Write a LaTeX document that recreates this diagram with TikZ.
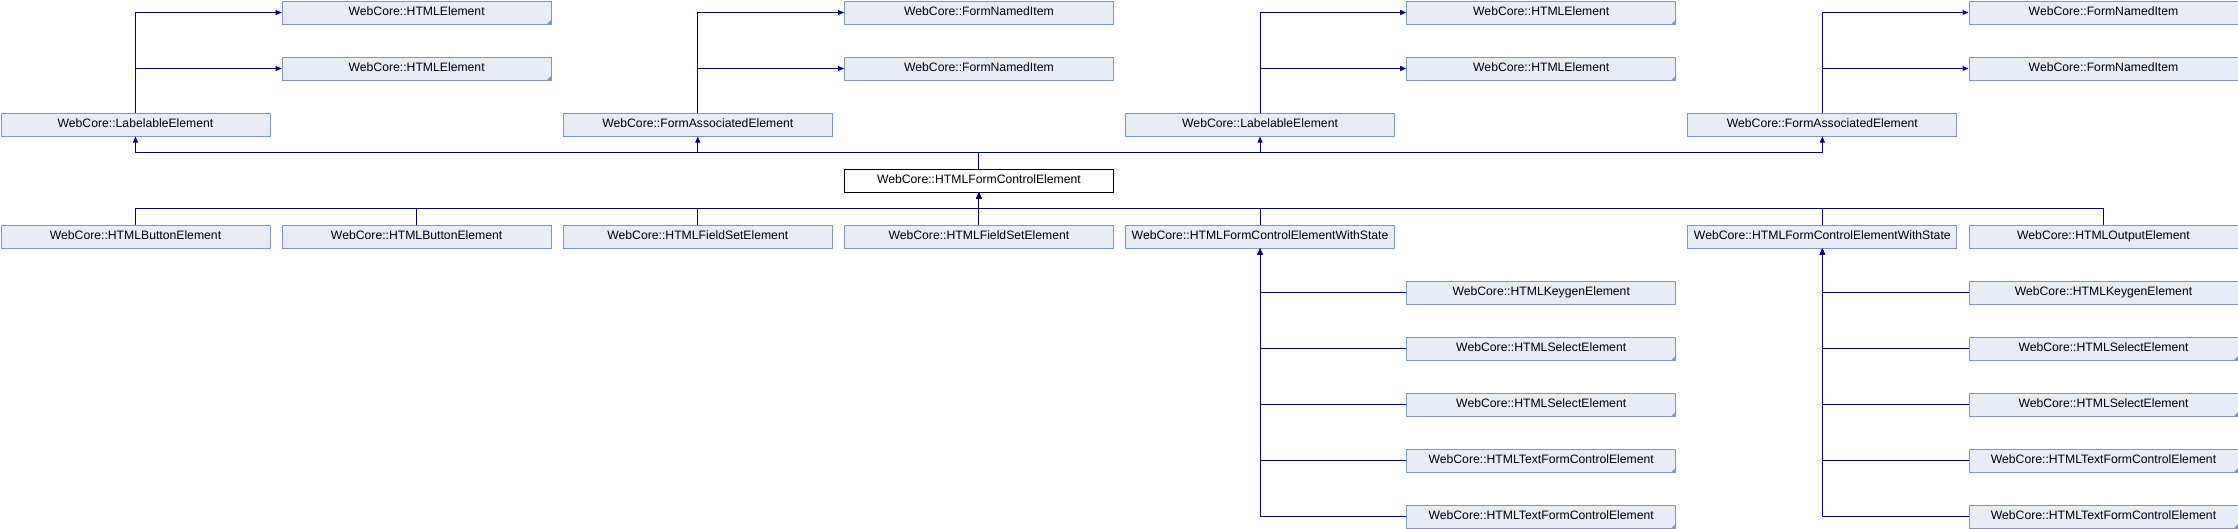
\documentclass[tikz,border=0pt]{standalone}
\usepackage{fontspec}
\setmainfont{Liberation Sans}
\usetikzlibrary{arrows.meta,calc}
\definecolor{boxfill}{RGB}{232,236,246}
\definecolor{boxline}{RGB}{127,150,204}
\definecolor{linkcol}{RGB}{0,0,140}
\tikzset{
  cls/.style={draw=boxline, fill=boxfill, line width=1pt, minimum width=269pt, minimum height=23pt,
    inner sep=0pt, anchor=north west, font=\fontsize{12.2}{14}\selectfont, text=black,
    text height=8.8pt, text depth=2.4pt},
  mainbox/.style={cls, draw=black, fill=white},
  arr/.style={draw=linkcol, line width=1pt, -{Triangle[length=6pt,width=5pt]}},
  corner/.style={fill=boxline}
}
\begin{document}
\begin{tikzpicture}[x=1pt,y=-1pt]
\useasboundingbox (0,0) rectangle (2238,528);
\def\cw{281.14}
% row 0
\node[cls] (h1)  at ({1*\cw+0.5},0.5) {WebCore::HTMLElement};
\node[cls] (n3)  at ({3*\cw+0.5},0.5) {WebCore::FormNamedItem};
\node[cls] (h5)  at ({5*\cw+0.5},0.5) {WebCore::HTMLElement};
\node[cls] (n7)  at ({7*\cw+0.5},0.5) {WebCore::FormNamedItem};
% row 1
\node[cls] (h1b) at ({1*\cw+0.5},56.5) {WebCore::HTMLElement};
\node[cls] (n3b) at ({3*\cw+0.5},56.5) {WebCore::FormNamedItem};
\node[cls] (h5b) at ({5*\cw+0.5},56.5) {WebCore::HTMLElement};
\node[cls] (n7b) at ({7*\cw+0.5},56.5) {WebCore::FormNamedItem};
% row 2
\node[cls] (lab0) at ({0*\cw+0.5},112.5) {WebCore::LabelableElement};
\node[cls] (fa2)  at ({2*\cw+0.5},112.5) {WebCore::FormAssociatedElement};
\node[cls] (lab4) at ({4*\cw+0.5},112.5) {WebCore::LabelableElement};
\node[cls] (fa6)  at ({6*\cw+0.5},112.5) {WebCore::FormAssociatedElement};
% row 3
\node[mainbox] (fce) at ({3*\cw+0.5},168.5) {WebCore::HTMLFormControlElement};
% row 4
\node[cls] (btn0) at ({0*\cw+0.5},224.5) {WebCore::HTMLButtonElement};
\node[cls] (btn1) at ({1*\cw+0.5},224.5) {WebCore::HTMLButtonElement};
\node[cls] (fs2)  at ({2*\cw+0.5},224.5) {WebCore::HTMLFieldSetElement};
\node[cls] (fs3)  at ({3*\cw+0.5},224.5) {WebCore::HTMLFieldSetElement};
\node[cls] (ws4)  at ({4*\cw+0.5},224.5) {WebCore::HTMLFormControlElementWithState};
\node[cls] (ws6)  at ({6*\cw+0.5},224.5) {WebCore::HTMLFormControlElementWithState};
\node[cls] (out7) at ({7*\cw+0.5},224.5) {WebCore::HTMLOutputElement};
% rows 5-9
\node[cls] (kg5) at ({5*\cw+0.5},280.5) {WebCore::HTMLKeygenElement};
\node[cls] (sa5) at ({5*\cw+0.5},336.5) {WebCore::HTMLSelectElement};
\node[cls] (sb5) at ({5*\cw+0.5},392.5) {WebCore::HTMLSelectElement};
\node[cls] (ta5) at ({5*\cw+0.5},448.5) {WebCore::HTMLTextFormControlElement};
\node[cls] (tb5) at ({5*\cw+0.5},504.5) {WebCore::HTMLTextFormControlElement};
\node[cls] (kg7) at ({7*\cw+0.5},280.5) {WebCore::HTMLKeygenElement};
\node[cls] (sa7) at ({7*\cw+0.5},336.5) {WebCore::HTMLSelectElement};
\node[cls] (sb7) at ({7*\cw+0.5},392.5) {WebCore::HTMLSelectElement};
\node[cls] (ta7) at ({7*\cw+0.5},448.5) {WebCore::HTMLTextFormControlElement};
\node[cls] (tb7) at ({7*\cw+0.5},504.5) {WebCore::HTMLTextFormControlElement};
% corner markers
\foreach \t in {h1,h1b,h5,h5b,sa5,sb5,ta5,tb5,sa7,sb7,ta7,tb7}
  \fill[corner] (\t.south east) -- ++(-5,0) -- ++(5,-5) -- cycle;
% buses
\coordinate (busA) at (0,152);
\coordinate (busB) at (0,208);
% top inheritance
\draw[arr] (lab0.north) |- (h1.west);
\draw[arr] (lab0.north) |- (h1b.west);
\draw[arr] (fa2.north) |- (n3.west);
\draw[arr] (fa2.north) |- (n3b.west);
\draw[arr] (lab4.north) |- (h5.west);
\draw[arr] (lab4.north) |- (h5b.west);
\draw[arr] (fa6.north) |- (n7.west);
\draw[arr] (fa6.north) |- (n7b.west);
% main to parents
\foreach \t in {lab0,fa2,lab4,fa6}
  \draw[arr] (fce.north) |- (busA -| \t.south) -- (\t.south);
% children to main
\foreach \t in {btn0,btn1,fs2,fs3,ws4,ws6,out7}
  \draw[arr] (\t.north) |- (busB -| fce.south) -- (fce.south);
% grandchildren
\foreach \t in {kg5,sa5,sb5,ta5,tb5}
  \draw[arr] (\t.west) -| (ws4.south);
\foreach \t in {kg7,sa7,sb7,ta7,tb7}
  \draw[arr] (\t.west) -| (ws6.south);
\end{tikzpicture}
\end{document}
